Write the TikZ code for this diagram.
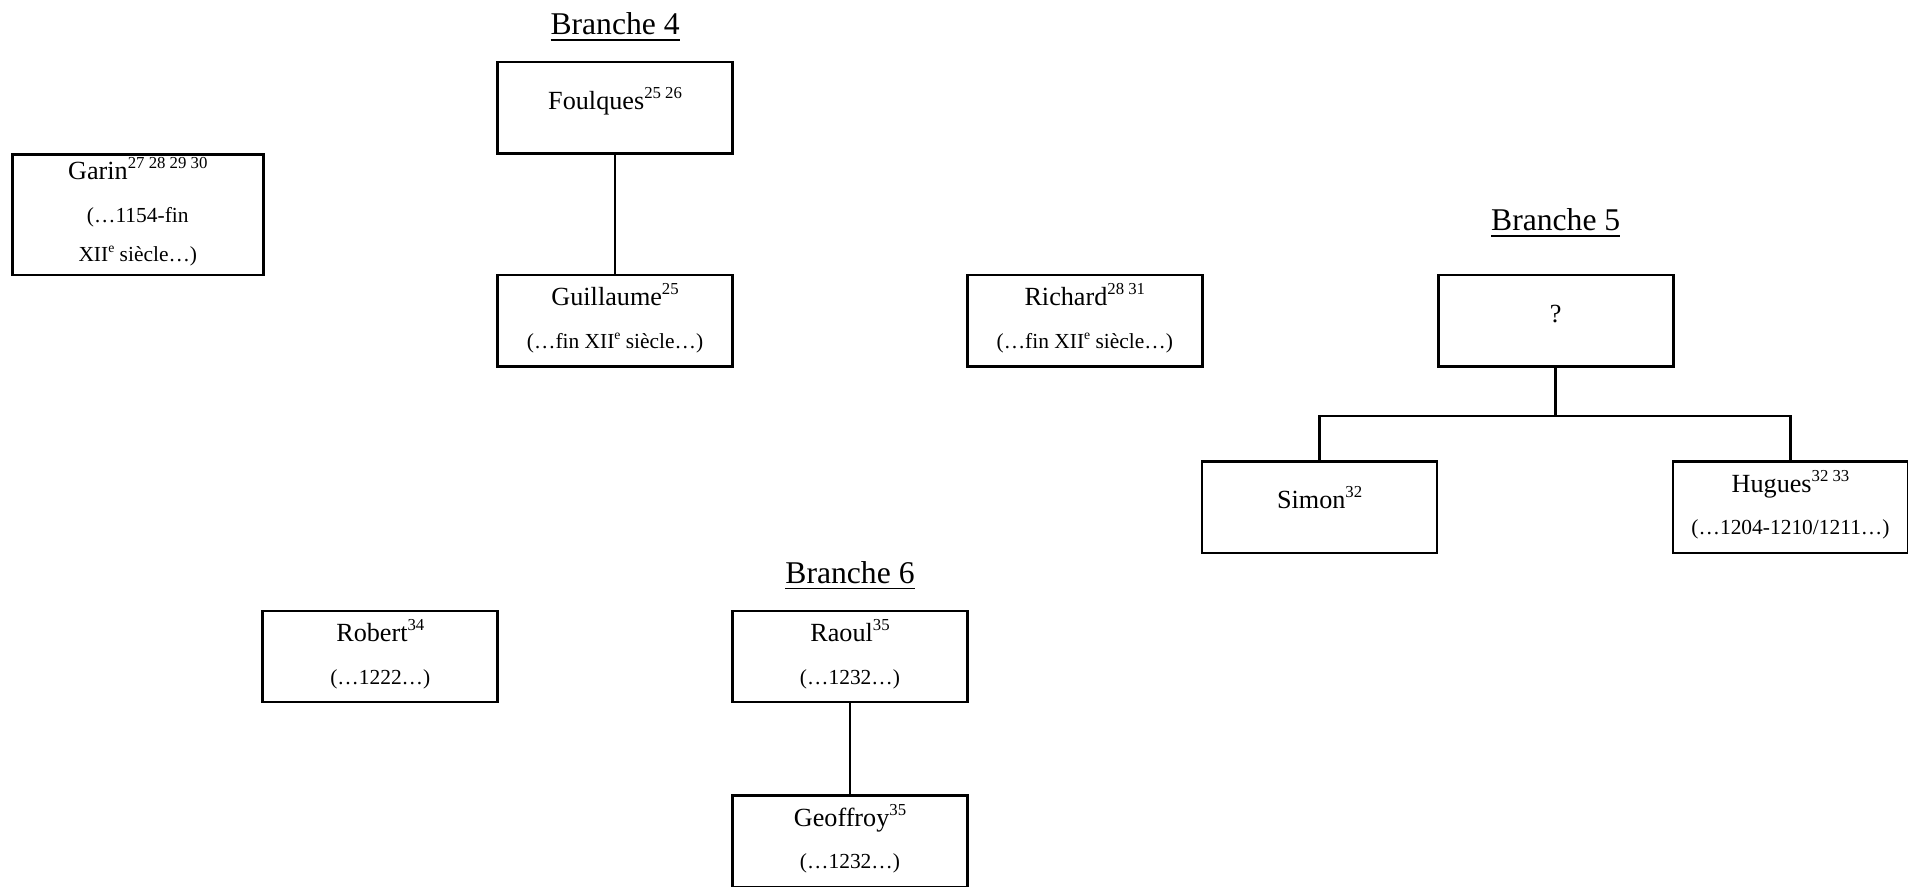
\documentclass[tikz,border=0pt]{standalone}
\usepackage{fontspec}
\setmainfont{Liberation Serif}
\usepackage{graphicx}
\usepackage{tikz}
\usetikzlibrary{positioning}
\newcommand{\namefont}{\fontsize{7.45}{12.2}\selectfont}
\newcommand{\datefont}{\fontsize{6.1}{7}\selectfont}
\newcommand{\titlefont}{\fontsize{9}{11}\selectfont}
\newcommand{\supnum}[1]{\raisebox{.42em}{\scalebox{.64}{#1}}}

\begin{document}
\begin{tikzpicture}[
        person/.style={rectangle, draw=black, line width=0.75pt, minimum width=2.35cm, minimum height=0.912cm, inner sep=0pt, align=center, font=\namefont},
        single/.style={person, text height=0.47cm, text depth=0.44cm},
        dated/.style={person, text height=0.73cm, text depth=0.18cm},
        branch/.style={anchor=base, font=\titlefont},
        link/.style={line width=0.75pt}
    ]
        \useasboundingbox (0,0) rectangle (19.08,-8.86);

        % Titles
        \node[branch] (branch4) at (6.151, -0.347) {\underline{Branche 4}};
        \node[branch] (branch5) at (15.557, -2.306) {\underline{Branche 5}};
        \node[branch] (branch6) at (8.50, -5.835) {\underline{Branche 6}};

        % Nodes
        \node[person, minimum width=2.51cm, minimum height=1.205cm, text height=1.075cm, text depth=0.13cm] (garin) at (1.378, -2.146) {Garin\supnum{27 28 29 30}\\{\datefont (…1154-fin}\\[-1pt]{\datefont XII\supnum{e} siècle…)}};
        \node[single] (foulques) at (6.151, -1.077) {Foulques\supnum{25 26}};
        \node[dated] (guillaume) at (6.151, -3.206) {Guillaume\supnum{25}\\{\datefont (…fin XII\supnum{e} siècle…)}};
        \node[dated] (richard) at (10.848, -3.206) {Richard\supnum{28 31}\\{\datefont (…fin XII\supnum{e} siècle…)}};
        \node[single] (unknown) at (15.557, -3.206) {?};
        \node[single] (simon) at (13.196, -5.074) {Simon\supnum{32}};
        \node[dated] (hugues) at (17.905, -5.074) {Hugues\supnum{32 33}\\{\datefont (…1204-1210/1211…)}};
        \node[dated] (robert) at (3.803, -6.565) {Robert\supnum{34}\\{\datefont (…1222…)}};
        \node[dated] (raoul) at (8.50, -6.565) {Raoul\supnum{35}\\{\datefont (…1232…)}};
        \node[dated] (geoffroy) at (8.50, -8.414) {Geoffroy\supnum{35}\\{\datefont (…1232…)}};

        % Edges
        \draw[link] (foulques) -- (guillaume);
        \draw[link] (unknown.south) -- ++(0,-0.485) coordinate (fork) -| (simon.north);
        \draw[link] (fork) -| (hugues.north);
        \draw[link] (raoul) -- (geoffroy);

    \end{tikzpicture}
\end{document}
